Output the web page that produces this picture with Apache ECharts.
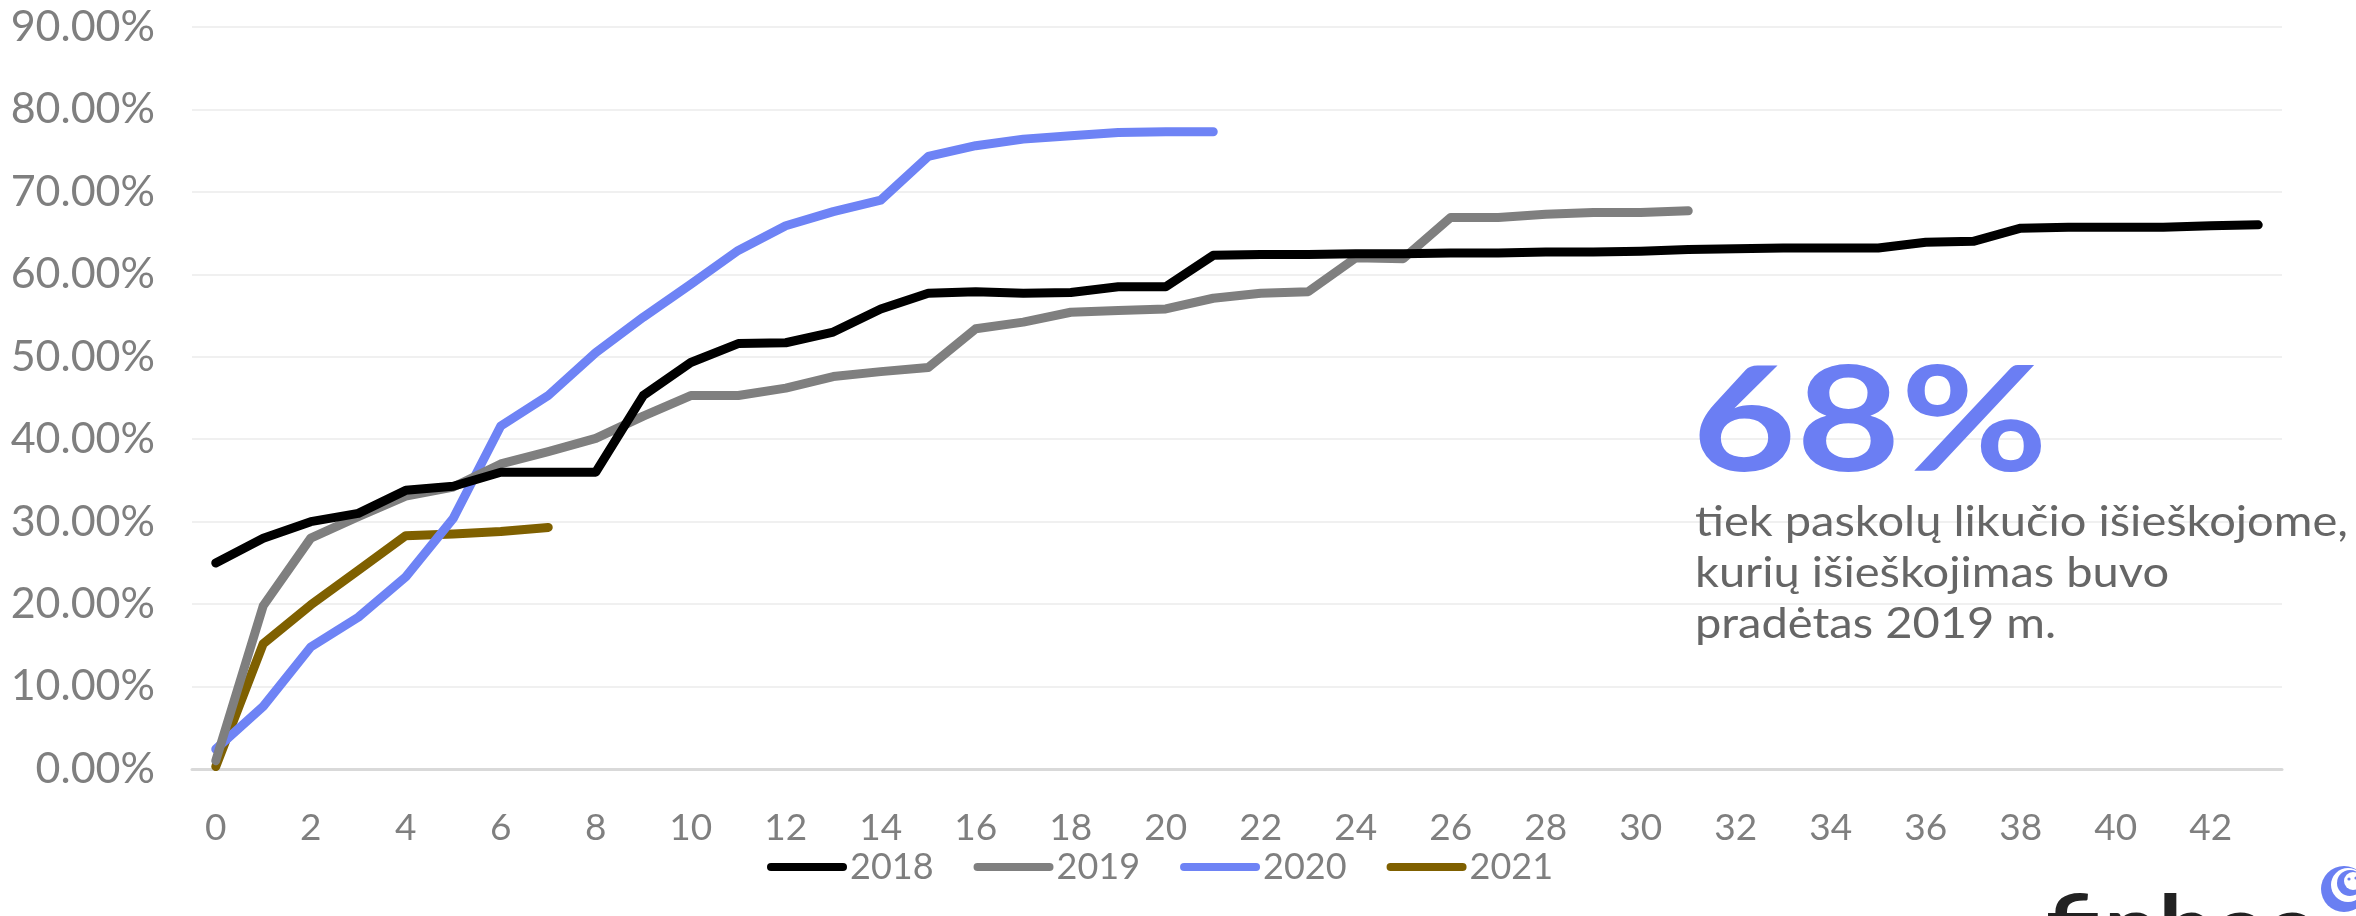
<!DOCTYPE html>
<html>
<head>
<meta charset="utf-8">
<script src="https://cdn.jsdelivr.net/npm/echarts@6/dist/echarts.min.js"></script>
<style>
html,body{margin:0;padding:0;background:#fff;}
#chart{width:2356px;height:916px;}
</style>
</head>
<body>
<div id="chart"></div>
<script>
const categories = ['0','1','2','3','4','5','6','7','8','9','10','11','12','13','14','15','16','17','18','19','20','21','22','23','24','25','26','27','28','29','30','31','32','33','34','35','36','37','38','39','40','41','42','43'];
const yTicks = [0, 10, 20, 30, 40, 50, 60, 70, 80, 90];
const seriesNames = ['2018', '2019', '2020', '2021'];
const s2018 = [25.0, 28.0, 30.0, 31.0, 33.8, 34.3, 36.0, 36.0, 36.0, 45.3, 49.3, 51.6, 51.7, 53.0, 55.8, 57.7, 57.9, 57.7, 57.8, 58.5, 58.5, 62.3, 62.4, 62.4, 62.5, 62.5, 62.6, 62.6, 62.7, 62.7, 62.8, 63.0, 63.1, 63.2, 63.2, 63.2, 63.9, 64.0, 65.6, 65.7, 65.7, 65.7, 65.9, 66.0];
const s2019 = [1.0, 19.8, 28.0, 30.6, 33.1, 34.2, 37.0, 38.5, 40.1, 42.8, 45.3, 45.3, 46.2, 47.6, 48.2, 48.7, 53.4, 54.2, 55.4, 55.6, 55.8, 57.1, 57.7, 57.9, 62.0, 61.9, 66.9, 66.9, 67.3, 67.5, 67.5, 67.7];
const s2020 = [2.4, 7.6, 14.8, 18.4, 23.3, 30.4, 41.6, 45.3, 50.5, 54.8, 58.8, 62.9, 65.9, 67.6, 69.0, 74.3, 75.6, 76.4, 76.8, 77.2, 77.3, 77.3];
const s2021 = [0.3, 15.2, 19.9, 24.1, 28.3, 28.5, 28.8, 29.3];
const bigNumber = '68%';
const noteLines = ['tiek paskolų likučio išieškojome,', 'kurių išieškojimas buvo', 'pradėtas 2019 m.'];
const logoText = 'finbee';

const colors = ['#000000', '#7f7f7f', '#6e83f5', '#7f6000'];
const FONT = 'Lato';

const chart = echarts.init(document.getElementById('chart'), null, {renderer: 'canvas'});
const allData = [s2018, s2019, s2020, s2021];
const capsule = 'path://M4,0 L76,0 A4,4 0 0 1 76,8 L4,8 A4,4 0 0 1 4,0 Z';
const logoBlue = '#6a7ff2';

chart.setOption({
  backgroundColor: '#ffffff',
  animation: false,
  grid: {left: 192, right: 74, top: 27, bottom: 147, containLabel: false},
  legend: {
    data: seriesNames,
    left: 762,
    top: 844,
    icon: capsule,
    itemWidth: 80,
    itemHeight: 9,
    itemGap: 40,
    textStyle: {color: '#7f7f7f', fontSize: 36, fontFamily: FONT, padding: [0, 0, 0, -2]}
  },
  xAxis: {
    type: 'category',
    data: categories,
    boundaryGap: true,
    axisLine: {show: true, lineStyle: {color: '#d9d9d9', width: 3}},
    axisTick: {show: false},
    axisLabel: {interval: 1, color: '#7f7f7f', fontSize: 37, fontFamily: FONT, margin: 41},
    splitLine: {show: false}
  },
  yAxis: {
    type: 'value',
    min: yTicks[0],
    max: yTicks[yTicks.length - 1],
    interval: 10,
    axisLine: {show: false},
    axisTick: {show: false},
    axisLabel: {color: '#7f7f7f', fontSize: 43, fontFamily: FONT, margin: 37,
      formatter: v => v.toFixed(2) + '%'},
    splitLine: {show: true, lineStyle: {color: '#f0f0f0', width: 2}}
  },
  series: seriesNames.map((n, i) => ({
    name: n,
    type: 'line',
    data: allData[i],
    showSymbol: false,
    symbol: 'none',
    smooth: false,
    itemStyle: {color: colors[i]},
    lineStyle: {color: colors[i], width: 9, cap: 'round', join: 'round'},
    z: 10 - i
  })),
  graphic: [
    {type: 'text', x: 1692, y: 352, scaleX: 1.24, z: 100, style: {text: bigNumber, fill: '#6b7ef3', font: 'bold 145px ' + FONT}},
    {type: 'text', x: 1695, y: 497, scaleX: 1.12, z: 100, style: {text: noteLines.join('\n'), fill: '#666666', font: '42px ' + FONT, lineHeight: 51}},
    {type: 'text', x: 2046, y: 887, scaleX: 1.15, z: 100, style: {text: logoText, fill: '#222222', font: 'bold 84px ' + FONT}},
    {type: 'circle', z: 100, shape: {cx: 2344, cy: 889, r: 23}, style: {fill: logoBlue}},
    {type: 'circle', z: 101, shape: {cx: 2348, cy: 885, r: 17}, style: {fill: '#ffffff'}},
    {type: 'circle', z: 102, shape: {cx: 2350, cy: 883, r: 13}, style: {fill: logoBlue}},
    {type: 'circle', z: 103, shape: {cx: 2353, cy: 881, r: 9}, style: {fill: '#ffffff'}},
    {type: 'circle', z: 104, shape: {cx: 2349, cy: 879, r: 1.6}, style: {fill: logoBlue}},
    {type: 'circle', z: 104, shape: {cx: 2356, cy: 878, r: 1.6}, style: {fill: logoBlue}}
  ]
});
</script>
</body>
</html>
